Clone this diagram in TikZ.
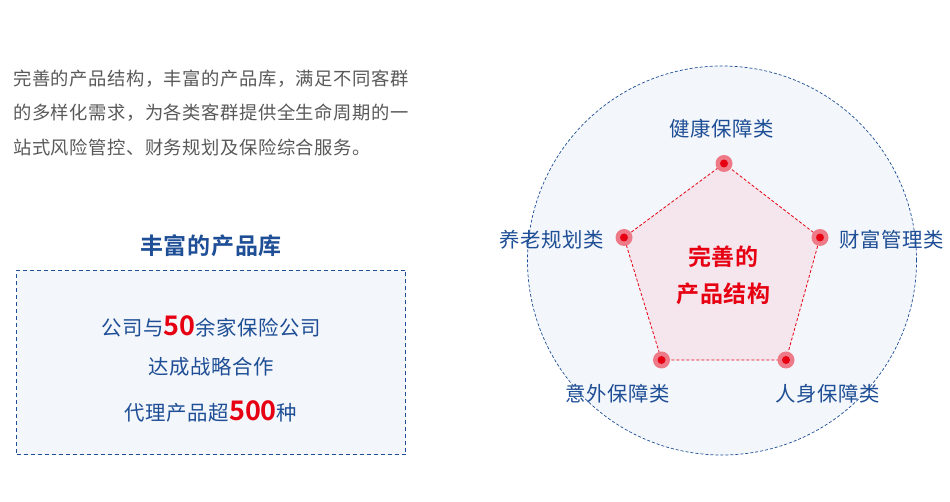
\documentclass[tikz,border=0pt]{standalone}
\usepackage{fontspec}
\newfontfamily\cjk[LetterSpace=3,BoldFont={Noto Sans CJK SC Bold}]{Noto Sans CJK SC}
\newfontfamily\cjknum[BoldFont={Noto Sans CJK SC Bold}]{Noto Sans CJK SC}
\usetikzlibrary{positioning}
\definecolor{navy}{HTML}{1E4E95}
\definecolor{ruby}{HTML}{E60012}
\definecolor{halo}{HTML}{EE7A88}
\definecolor{mist}{HTML}{F3F6FB}
\definecolor{blush}{HTML}{F4E6EC}
\definecolor{slate}{HTML}{595959}
\newcommand{\bignum}[1]{{\cjknum\bfseries\fontsize{27}{27}\selectfont\textcolor{ruby}{#1}}}

\begin{document}
\begin{tikzpicture}[x=1pt, y=-1pt,
  lbl/.style={font=\cjk\fontsize{20.4}{22}\selectfont, text=navy, inner sep=0pt},
  dot/.style={circle, fill=halo, minimum size=17pt, inner sep=0pt},
  edge/.style={draw=ruby, dash pattern=on 3pt off 2pt, line width=0.8pt}]
\useasboundingbox (0,0) rectangle (950,502);

% intro text
\node[anchor=west, inner sep=0pt, align=left, text=slate,
  font=\cjk\fontsize{18.3}{34.5}\selectfont] (intro) at (13,112.5)
  {完善的产品结构，丰富的产品库，满足不同客群\\的多样化需求，为各类客群提供全生命周期的一\\站式风险管控、财务规划及保险综合服务。};

% product library box
\node[draw=navy, dash pattern=on 4pt off 3pt, line width=0.8pt, fill=mist,
  minimum width=389pt, minimum height=184pt] (library) at (211,362.5) {};
\node[above=13pt of library, inner sep=0pt, text=navy,
  font=\cjk\bfseries\fontsize{23}{24}\selectfont] (heading) {丰富的产品库};
\node[lbl] (partners) at (211,326.5) {公司与\bignum{50}余家保险公司};
\node[lbl] (coop) at (211,366.5) {达成战略合作};
\node[lbl] (agency) at (211,411) {代理产品超\bignum{500}种};

% outer ring
\node[draw=navy, dash pattern=on 3pt off 2pt, line width=0.7pt, fill=mist,
  circle, minimum size=389pt, inner sep=0pt] (ring) at (722,260.5) {};

% pentagon
\coordinate (p1) at (724,163.5);
\coordinate (p2) at (820,237.5);
\coordinate (p3) at (786,360);
\coordinate (p4) at (661.5,360);
\coordinate (p5) at (624,237.5);
\fill[blush] (p1) -- (p2) -- (p3) -- (p4) -- (p5) -- cycle;
\draw[edge] (p1) -- (p2) -- (p3) -- (p4) -- (p5) -- cycle;

\node[dot] (health) at (p1) {};
\node[dot] (wealth) at (p2) {};
\node[dot] (life) at (p3) {};
\node[dot] (accident) at (p4) {};
\node[dot] (pension) at (p5) {};
\foreach \v in {health,wealth,life,accident,pension}
  \fill[ruby] (\v) circle (4pt);

\node[lbl] (healthlbl) at (721.5,128.5) {健康保障类};
\node[lbl] (wealthlbl) at (892,239.5) {财富管理类};
\node[lbl] (lifelbl) at (828,394) {人身保障类};
\node[lbl] (accidentlbl) at (618,394) {意外保障类};
\node[lbl] (pensionlbl) at (551.5,240) {养老规划类};

\node[align=center, text=ruby, inner sep=0pt,
  font=\cjk\bfseries\fontsize{23}{37}\selectfont] (core) at (723.5,275)
  {完善的\\产品结构};
\end{tikzpicture}
\end{document}
